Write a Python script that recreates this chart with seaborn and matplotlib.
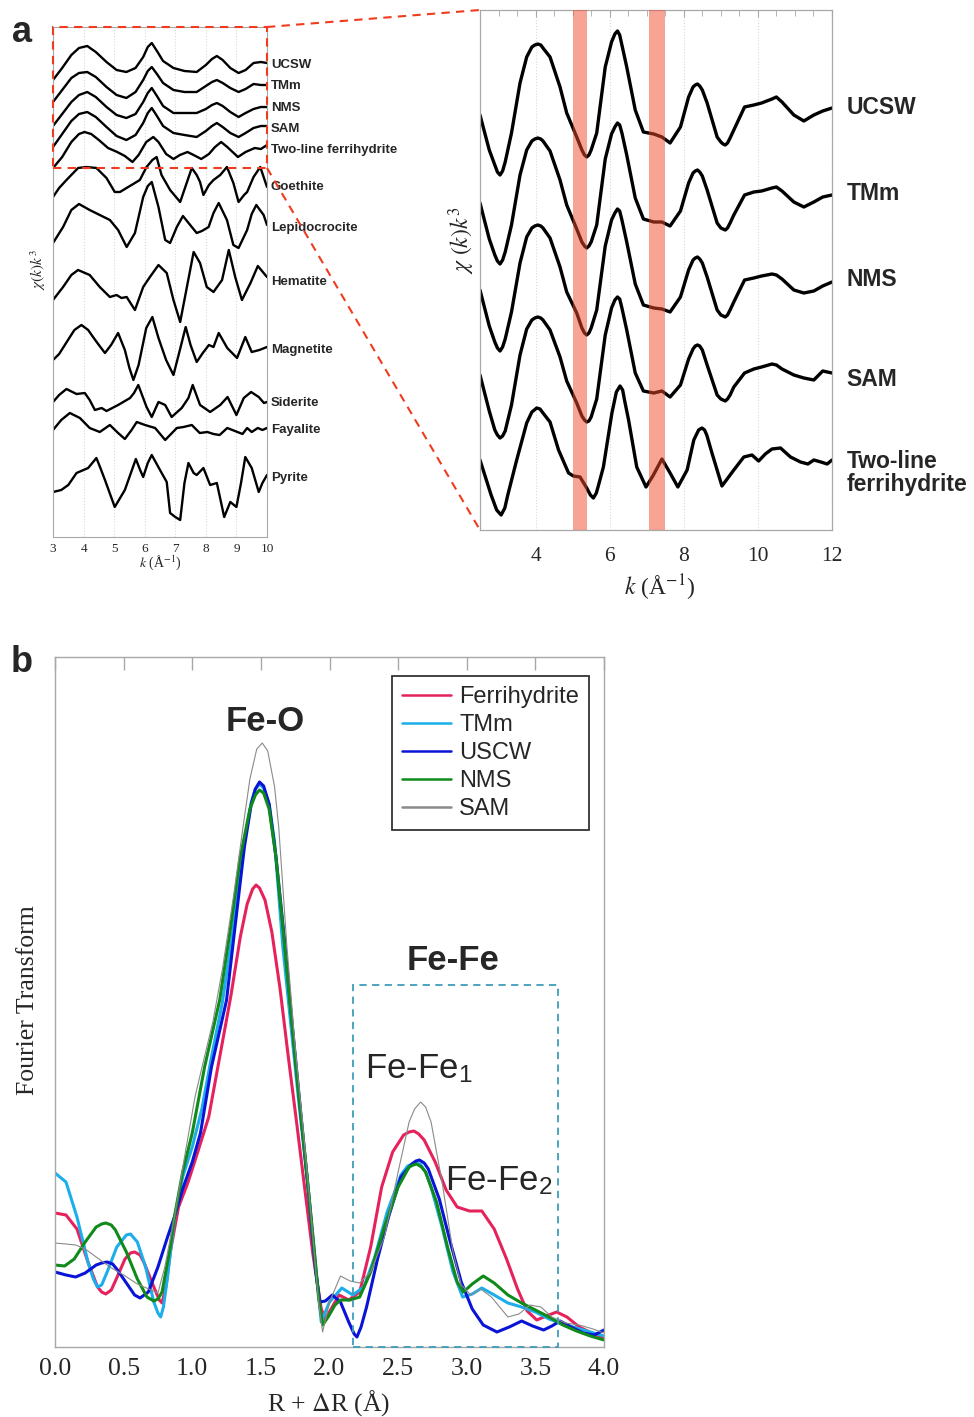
import numpy as np
import matplotlib
matplotlib.use('Agg')
import matplotlib.pyplot as plt
import seaborn as sns
from matplotlib.lines import Line2D
from matplotlib.patches import Rectangle
from matplotlib.ticker import MultipleLocator, FormatStrFormatter

sns.set_style('white')
plt.rcParams['font.family'] = ['Liberation Serif', 'DejaVu Serif']
plt.rcParams['mathtext.fontset'] = 'stix'

# ---------------- panel a, left: EXAFS chi(k)k^3 of samples and references ----------------
k_smp = [3.0, 3.3, 3.6, 3.85, 4.12, 4.4, 4.75, 5.08, 5.4, 5.7, 5.95, 6.1, 6.23, 6.4,
         6.6, 6.94, 7.3, 7.7, 8.0, 8.2, 8.36, 8.55, 8.8, 9.07, 9.3, 9.56, 9.8, 10.0]
ucsw_l = [-15, -3, 10, 17, 19, 13, 3, -5, -7, -3, 8, 18, 22, 14, 4, -3, -6, -7, 0, 6, 9, 5, -3, -8, -5, 2, 3, 2]
tmm_l = [-16, -4, 8, 13, 14, 9, -1, -9, -12, -6, 6, 15, 19, 12, 3, -4, -6, -6, 0, 4, 6, 3, -2, -6, -3, 2, 1, 1]
nms_l = [-18, -6, 6, 13, 16, 11, 1, -7, -10, -6, 6, 15, 20, 12, 2, -5, -5, -5, -1, 3, 5, 2, -4, -9, -5, -1, 1, 1]
sam_l = [-18, -5, 8, 15, 17, 12, 2, -7, -11, -6, 6, 16, 21, 13, 3, -4, -6, -8, -2, 3, 6, 2, -4, -8, -4, 1, 3, 3]

k_fh_l = [3.0, 3.3, 3.6, 3.85, 4.03, 4.25, 4.5, 4.8, 5.1, 5.35, 5.6, 5.8, 6.05, 6.28, 6.45,
          6.7, 6.94, 7.15, 7.4, 7.6, 7.85, 8.1, 8.3, 8.5, 8.7, 9.05, 9.3, 9.6, 9.8, 10.0]
fh_l = [-18, -7, 8, 16, 18, 16, 10, 2, -2, -6, -12, -5, 8, 13, 8, -4, -9, -5, -2, -5, -9, -4, 3, 8, 3, -7, -2, 2, 1, 5]

k_goe = [3.0, 3.2, 3.44, 3.82, 4.09, 4.42, 4.75, 5.02, 5.19, 5.46, 5.84, 6.06, 6.25, 6.39, 6.55, 6.83, 7.16,
         7.35, 7.54, 7.7, 7.81, 7.92, 8.1, 8.25, 8.47, 8.69, 8.9, 9.07, 9.25, 9.35, 9.56, 9.78, 10.0]
goethite = [-10, -1, 7, 19, 20, 19, 9, -5, -5, 0, 7, 20, 27, 30, 12, -3, -15,
            2, 19, 12, 5, -8, 2, 7, 12, 20, 4, -15, -8, -5, 10, 20, 0]

k_lep = [3.0, 3.33, 3.6, 3.85, 4.2, 4.53, 4.86, 5.13, 5.41, 5.68, 5.95, 6.1, 6.23, 6.45, 6.67, 6.83,
         7.05, 7.25, 7.54, 7.7, 7.87, 8.09, 8.25, 8.42, 8.69, 8.9, 9.07, 9.35, 9.5, 9.65, 9.89, 10.0]
lepidocrocite = [-15, 1, 18, 24, 18, 13, 8, -2, -19, -5, 31, 42, 46, 21, -12, -15,
                 1, 12, 1, -5, -3, 1, 15, 25, 8, -17, -20, -2, 14, 23, 13, 3]

k_hem = [3.0, 3.33, 3.6, 3.82, 4.2, 4.53, 4.86, 5.08, 5.24, 5.41, 5.68, 5.95, 6.17, 6.45, 6.72,
         6.94, 7.16, 7.38, 7.6, 7.81, 8.03, 8.25, 8.53, 8.75, 8.96, 9.18, 9.46, 9.7, 10.0]
hematite = [-18, -5, 7, 12, 7, -5, -15, -13, -16, -15, -28, -5, 5, 17, 9,
            -18, -40, -5, 30, 19, -5, -10, 2, 32, 5, -18, -1, 16, 5]

k_mag = [3.0, 3.2, 3.49, 3.7, 3.93, 4.15, 4.31, 4.5, 4.7, 4.9, 5.13, 5.35, 5.5, 5.63, 5.8, 6.05, 6.25,
         6.45, 6.7, 6.94, 7.15, 7.34, 7.5, 7.7, 7.9, 8.1, 8.25, 8.42, 8.7, 9.02, 9.29, 9.5, 9.75, 10.0]
magnetite = [-10, -4, 10, 20, 25, 20, 13, 5, -3, 5, 17, 0, -18, -30, -15, 22, 33,
             12, -10, -25, 0, 23, 5, -12, -3, 5, 3, 17, 2, -8, 13, -2, 0, 3]

k_sid = [3.0, 3.2, 3.44, 3.77, 4.04, 4.2, 4.37, 4.59, 4.75, 5.13, 5.52, 5.65, 5.79, 6.06, 6.23, 6.45,
         6.67, 6.88, 7.21, 7.43, 7.57, 7.81, 8.14, 8.47, 8.71, 9.0, 9.24, 9.48, 9.73, 9.9, 10.0]
siderite = [1, 8, 14, 9, 10, 3, -7, -5, -8, -2, 5, 10, 18, -4, -14, 1,
            -2, -14, -5, 5, 18, -2, -9, -2, 6, -12, 5, 11, 6, 0, 1]

k_fay = [3.0, 3.27, 3.55, 3.88, 4.2, 4.53, 4.86, 5.13, 5.35, 5.57, 5.74, 6.01, 6.34, 6.67, 7.05,
         7.27, 7.54, 7.8, 8.05, 8.25, 8.45, 8.7, 8.95, 9.2, 9.35, 9.5, 9.7, 9.85, 10.0]
fayalite = [0, 10, 17, 12, 2, -2, 5, -3, -9, 0, 8, 5, 2, -10, 2,
            3, 5, -3, -2, -4, -5, 2, -1, -4, 2, -2, 2, 0, 2]

k_pyr = [3.0, 3.27, 3.5, 3.77, 4.15, 4.42, 4.55, 4.7, 5.02, 5.35, 5.71, 5.85, 5.95, 6.1, 6.23, 6.5, 6.72, 6.83,
         7.0, 7.16, 7.3, 7.43, 7.6, 7.7, 7.92, 8.14, 8.36, 8.6, 8.8, 9.0, 9.15, 9.29, 9.5, 9.73, 9.85, 10.0]
pyrite = [-14, -12, -7, 5, 10, 20, 10, -2, -29, -12, 19, 8, 1, 15, 23, 8, -4, -35,
          -39, -42, -5, 15, 5, 3, 10, -7, -5, -39, -24, -29, -5, 21, 10, -14, -5, 3]

left_names = ['UCSW', 'TMm', 'NMS', 'SAM', 'Two-line ferrihydrite', 'Goethite', 'Lepidocrocite',
              'Hematite', 'Magnetite', 'Siderite', 'Fayalite', 'Pyrite']
left_k = [k_smp, k_smp, k_smp, k_smp, k_fh_l, k_goe, k_lep, k_hem, k_mag, k_sid, k_fay, k_pyr]
left_chi = [ucsw_l, tmm_l, nms_l, sam_l, fh_l, goethite, lepidocrocite, hematite, magnetite,
            siderite, fayalite, pyrite]
left_offset = [472, 451, 429, 408, 387, 350, 309, 255, 187, 134, 107, 59]

# ---------------- panel a, right: enlarged sample spectra ----------------
k_r = [2.5, 2.75, 2.9, 2.97, 3.04, 3.11, 3.18, 3.35,
       3.58, 3.76, 3.9, 3.98, 4.06, 4.14, 4.2, 4.39,
       4.66, 4.84, 5.11, 5.25, 5.32, 5.38, 5.44, 5.5,
       5.65, 5.88, 6.05, 6.14, 6.21, 6.27, 6.33, 6.46,
       6.69, 6.91, 7.19, 7.41, 7.63, 7.91, 8.13, 8.25,
       8.31, 8.37, 8.43, 8.5, 8.63, 8.9, 9.0, 9.06,
       9.12, 9.18, 9.25, 9.35, 9.64, 9.89, 10.1, 10.38,
       10.5, 10.65, 10.97, 11.24, 11.51, 11.75, 12.0]
ucsw_r = [-7, -42, -57, -64, -67, -63, -54, -25,
          25, 51, 61, 63, 64, 63, 60, 51,
          21, -5, -29, -42, -47, -49, -47, -42,
          -25, 41, 66, 74, 77, 73, 63, 41,
          -2, -24, -26, -29, -35, -19, 11, 21,
          23, 24, 22, 18, 5, -29, -34, -36,
          -37, -35, -30, -22, 1, 3, 5, 9,
          11, 6, -7, -13, -7, -3, 0]
tmm_r = [-8, -44, -60, -66, -69, -65, -57, -30,
         20, 45, 54, 56, 57, 56, 54, 44,
         15, -10, -34, -47, -51, -53, -51, -47,
         -30, 36, 61, 68, 72, 70, 62, 40,
         -3, -24, -27, -27, -31, -16, 12, 22,
         24, 25, 23, 19, 5, -28, -33, -34,
         -35, -33, -28, -20, 0, 3, 4, 7,
         8, 4, -7, -12, -7, -2, 0]
nms_r = [-8, -44, -60, -66, -69, -65, -57, -30,
         19, 45, 54, 56, 57, 56, 54, 44,
         15, -10, -31, -46, -51, -53, -51, -46,
         -28, 36, 62, 69, 73, 71, 62, 40,
         -2, -23, -26, -27, -30, -15, 12, 22,
         24, 25, 23, 19, 5, -28, -33, -34,
         -35, -33, -28, -20, 2, 4, 6, 8,
         7, 3, -8, -11, -9, -4, 0]
sam_r = [-2, -38, -57, -62, -65, -63, -58, -32,
         18, 44, 53, 55, 56, 55, 53, 43,
         16, -8, -30, -43, -47, -49, -48, -44,
         -26, 38, 65, 73, 76, 74, 65, 43,
         0, -18, -20, -18, -24, -12, 14, 24,
         27, 28, 27, 23, 8, -22, -26, -27,
         -28, -26, -22, -14, 0, 4, 6, 9,
         8, 4, -2, -5, -7, 2, 0]
k_r_fh = [2.5, 2.8, 2.95, 3.07, 3.17, 3.25, 3.49, 3.76, 3.9, 4.03, 4.12, 4.2, 4.39, 4.62, 4.89,
          5.02, 5.2, 5.38, 5.48, 5.56, 5.64, 5.7, 5.83, 6.06, 6.18, 6.28, 6.35, 6.4, 6.51, 6.73,
          6.98, 7.18, 7.41, 7.63, 7.84, 8.09, 8.27, 8.4, 8.49, 8.56, 8.62, 8.76, 9.03, 9.35, 9.62,
          9.84, 10.02, 10.2, 10.38, 10.61, 10.88, 11.15, 11.35, 11.51, 11.7, 11.87, 12.0]
fh_r = [0, -35, -50, -55, -48, -35, 0, 37, 48, 52, 51, 47, 38, 10, -13,
        -16, -17, -28, -35, -38, -33, -25, -7, 47, 68, 74, 70, 60, 40, -7,
        -27, -15, 1, -13, -27, -10, 20, 30, 32, 30, 25, 7, -26, -10, 3,
        5, -1, 6, 11, 12, 3, -2, -4, 0, -2, -4, 0]

right_names = ['UCSW', 'TMm', 'NMS', 'SAM', 'Two-line\nferrihydrite']
right_k = [k_r, k_r, k_r, k_r, k_r_fh]
right_chi = [ucsw_r, tmm_r, nms_r, sam_r, fh_r]
right_offset = [422, 335, 248, 157, 70]
right_label_y = [422, 337, 250, 150, 57]
bands = [(5.0, 5.4), (7.05, 7.5)]

# ---------------- panel b: Fourier transforms ----------------
r_fh = [0, 0.08, 0.16, 0.24, 0.31, 0.34, 0.37, 0.41, 0.44, 0.51, 0.55, 0.58, 0.62, 0.65, 0.72,
        0.76, 0.78, 0.81, 0.84, 0.9, 0.97, 1.04, 1.12, 1.2, 1.28, 1.35, 1.4, 1.44, 1.465, 1.49,
        1.53, 1.58, 1.64, 1.7, 1.76, 1.82, 1.88, 1.94, 1.97, 2.02, 2.07, 2.14, 2.22, 2.3, 2.38,
        2.46, 2.54, 2.58, 2.615, 2.65, 2.69, 2.77, 2.85, 2.93, 3.02, 3.11, 3.2, 3.29, 3.37, 3.44,
        3.51, 3.58, 3.655, 3.73, 3.82, 3.91, 4.0]
ft_fh = [134, 132, 118, 85, 60, 55, 53, 57, 66, 88, 94, 95, 92, 84, 60,
         47, 44, 62, 95, 140, 165, 195, 230, 290, 350, 410, 443, 458, 462, 459,
         447, 415, 358, 290, 225, 158, 92, 38, 28, 40, 52, 47, 55, 100, 160,
         195, 212, 215, 216, 213, 207, 185, 157, 140, 136, 136, 118, 88, 58, 36,
         27, 31, 35, 30, 20, 14, 9]

r_tm = [0, 0.08, 0.16, 0.24, 0.28, 0.31, 0.34, 0.38, 0.45, 0.52, 0.55, 0.6, 0.66, 0.72, 0.75,
        0.77, 0.79, 0.82, 0.87, 0.93, 1.0, 1.07, 1.14, 1.22, 1.3, 1.38, 1.43, 1.46, 1.49, 1.52,
        1.56, 1.6, 1.66, 1.72, 1.78, 1.84, 1.9, 1.94, 2.0, 2.09, 2.17, 2.25, 2.33, 2.42, 2.52,
        2.57, 2.62, 2.66, 2.7, 2.74, 2.82, 2.9, 2.97, 3.04, 3.11, 3.2, 3.3, 3.4, 3.5, 3.6,
        3.7, 3.8, 3.9, 4.0]
ft_tm = [174, 165, 130, 85, 68, 60, 62, 75, 100, 112, 113, 105, 80, 45, 34,
         30, 40, 70, 128, 170, 200, 238, 290, 345, 420, 505, 545, 558, 563, 559,
         543, 505, 400, 320, 240, 165, 80, 25, 45, 59, 52, 60, 90, 135, 172,
         181, 184, 183, 175, 160, 120, 75, 50, 53, 59, 52, 44, 40, 35, 28,
         23, 19, 15, 11]

r_us = [0, 0.08, 0.15, 0.22, 0.3, 0.34, 0.38, 0.42, 0.45, 0.52, 0.58, 0.62, 0.68, 0.75, 0.82,
        0.87, 0.93, 1.0, 1.06, 1.14, 1.25, 1.32, 1.38, 1.43, 1.46, 1.49, 1.52, 1.56, 1.61, 1.67,
        1.73, 1.79, 1.85, 1.9, 1.93, 1.97, 2.02, 2.08, 2.14, 2.18, 2.2, 2.23, 2.27, 2.35, 2.43,
        2.52, 2.6, 2.63, 2.655, 2.69, 2.72, 2.8, 2.88, 2.96, 3.04, 3.12, 3.22, 3.31, 3.4, 3.48,
        3.56, 3.62, 3.68, 3.76, 3.85, 3.93, 4.0]
ft_us = [75, 72, 70, 74, 82, 84, 85, 83, 78, 64, 52, 49, 55, 80, 110,
         130, 158, 185, 214, 280, 347, 430, 500, 543, 558, 565, 561, 543, 490, 410,
         320, 235, 150, 75, 45, 46, 52, 45, 25, 13, 10, 20, 40, 88, 130,
         170, 183, 186, 187, 184, 178, 148, 105, 65, 38, 22, 15, 20, 26, 21,
         17, 21, 26, 20, 14, 12, 17]

r_nm = [0, 0.07, 0.14, 0.22, 0.3, 0.34, 0.37, 0.41, 0.44, 0.52, 0.6, 0.67, 0.72, 0.75, 0.78,
        0.84, 0.87, 0.93, 1.0, 1.09, 1.2, 1.28, 1.35, 1.42, 1.46, 1.49, 1.52, 1.56, 1.61, 1.66,
        1.71, 1.77, 1.83, 1.88, 1.92, 1.95, 1.99, 2.04, 2.08, 2.15, 2.22, 2.3, 2.4, 2.5, 2.58,
        2.61, 2.635, 2.67, 2.7, 2.78, 2.86, 2.93, 2.975, 3.04, 3.12, 3.2, 3.3, 3.4, 3.5, 3.6,
        3.7, 3.8, 3.9, 4.0]
ft_nm = [82, 81, 88, 105, 120, 123, 124, 122, 117, 95, 68, 50, 46, 48, 55,
         100, 130, 175, 214, 280, 347, 420, 490, 538, 552, 557, 554, 538, 490, 420,
         347, 260, 180, 110, 50, 22, 30, 42, 47, 47, 50, 75, 120, 160, 180,
         182, 183, 180, 175, 145, 100, 65, 55, 63, 71, 64, 52, 44, 37, 30,
         22, 16, 11, 7]

r_sa = [0, 0.08, 0.15, 0.22, 0.3, 0.4, 0.5, 0.6, 0.7, 0.75, 0.8, 0.87, 0.95, 1.02, 1.08,
        1.15, 1.22, 1.3, 1.37, 1.42, 1.47, 1.51, 1.55, 1.6, 1.63, 1.69, 1.75, 1.81, 1.87, 1.92,
        1.95, 2.0, 2.08, 2.15, 2.22, 2.3, 2.4, 2.5, 2.58, 2.62, 2.664, 2.7, 2.74, 2.82, 2.9,
        2.96, 3.03, 3.1, 3.18, 3.3, 3.38, 3.46, 3.54, 3.62, 3.72, 3.82, 3.92, 4.0]
ft_sa = [104, 103, 102, 98, 90, 80, 72, 63, 57, 54, 80, 130, 195, 250, 285,
         325, 378, 450, 520, 568, 598, 604, 596, 560, 520, 400, 300, 215, 125, 45,
         15, 45, 71, 66, 64, 75, 110, 175, 225, 238, 245, 240, 225, 165, 95,
         62, 52, 58, 50, 30, 33, 42, 40, 30, 24, 22, 18, 14]

ft_names = ['Ferrihydrite', 'TMm', 'USCW', 'NMS', 'SAM']
ft_r = [r_fh, r_tm, r_us, r_nm, r_sa]
ft_vals = [ft_fh, ft_tm, ft_us, ft_nm, ft_sa]
ft_colors = ['#E5225C', '#1CAEEB', '#0A14D6', '#108A1A', '#8A8A8A']
ft_widths = [2.2, 2.2, 2.2, 2.2, 0.8]

# ---------------- figure ----------------
W, H = 974, 1417
fig = plt.figure(figsize=(W / 100, H / 100), dpi=100)


def box(x0, y0, x1, y1):
    return [x0 / W, 1 - y1 / H, (x1 - x0) / W, (y1 - y0) / H]


sans = 'Liberation Sans'
red = '#F03C1E'
spine_col = '#A8A8A8'

ax1 = fig.add_axes(box(53, 27, 267, 537))
ax2 = fig.add_axes(box(480, 10, 832, 530))
ax3 = fig.add_axes(box(55, 657, 604, 1347))

# left panel
for name, k, chi, off in zip(left_names, left_k, left_chi, left_offset):
    sns.lineplot(x=k, y=np.array(chi) + off, ax=ax1, color='black', linewidth=1.7)
    ax1.text(10.13, off, name, fontsize=9.5, fontweight='bold', family=sans,
             ha='left', va='center', clip_on=False)
ax1.set_xlim(3, 10)
ax1.set_ylim(0, 510)
ax1.set_yticks([])
ax1.xaxis.set_major_locator(MultipleLocator(1))
ax1.xaxis.set_minor_locator(MultipleLocator(0.2))
ax1.tick_params(axis='x', which='major', direction='in', length=4, labelsize=9.5, pad=4, color=spine_col)
ax1.tick_params(axis='x', which='minor', direction='in', length=2, color=spine_col)
ax1.grid(axis='x', which='major', ls=':', color='#D8D8D8', lw=0.8)
ax1.set_xlabel('')
ax1.set_ylabel('')
for s in ax1.spines.values():
    s.set_color(spine_col)
    s.set_linewidth(0.8)
fig.text(160 / W, 1 - 563 / H, r'$k$ (Å$^{-1}$)', fontsize=10, ha='center', va='center')
fig.text(38 / W, 1 - 270 / H, r'$\chi(k)k^3$', fontsize=11, rotation=90, ha='center', va='center')

# zoom box on left panel and guide lines
ax1.add_patch(Rectangle((3, 537 - 168), 7, 168 - 27, fill=False, ec=red, lw=1.5, ls=(0, (4, 3)),
                        clip_on=False, zorder=5))
fig.add_artist(Line2D([267 / W, 480 / W], [1 - 27 / H, 1 - 10 / H], color=red, lw=1.5, ls=(0, (4, 3))))
fig.add_artist(Line2D([267 / W, 480 / W], [1 - 168 / H, 1 - 530 / H], color=red, lw=1.5, ls=(0, (4, 3))))

# right panel
for name, k, chi, off, ly in zip(right_names, right_k, right_chi, right_offset, right_label_y):
    sns.lineplot(x=k, y=np.array(chi) + off, ax=ax2, color='black', linewidth=2.4)
    ax2.text(12.39, ly, name, fontsize=16.5, fontweight='bold', family=sans,
             ha='left', va='center', clip_on=False, linespacing=1.05)
for b0, b1 in bands:
    ax2.axvspan(b0, b1, color='#F14B2D', alpha=0.5, lw=0, zorder=3)
ax2.set_xlim(2.5, 12)
ax2.set_ylim(0, 520)
ax2.set_yticks([])
ax2.xaxis.set_major_locator(MultipleLocator(2))
ax2.xaxis.set_minor_locator(MultipleLocator(0.5))
ax2.tick_params(axis='x', which='both', direction='in', top=True, color=spine_col)
ax2.tick_params(axis='x', which='major', length=5, labelsize=15.5, pad=12)
ax2.tick_params(axis='x', which='minor', length=4)
ax2.grid(axis='x', which='major', ls=':', color='#D8D8D8', lw=0.8)
ax2.set_xlabel('')
ax2.set_ylabel('')
for s in ax2.spines.values():
    s.set_color(spine_col)
    s.set_linewidth(0.9)
fig.text(660 / W, 1 - 588 / H, r'$k$ (Å$^{-1}$)', fontsize=17, ha='center', va='center')
fig.text(462 / W, 1 - 240 / H, r'$\chi\ (k)k^3$', fontsize=17, rotation=90, ha='center', va='center')

# panel b
for name, r, v, c, lw in zip(ft_names, ft_r, ft_vals, ft_colors, ft_widths):
    sns.lineplot(x=r, y=v, ax=ax3, color=c, linewidth=lw, label=name)
ax3.set_xlim(0, 4)
ax3.set_ylim(0, 690)
ax3.set_yticks([])
ax3.xaxis.set_major_locator(MultipleLocator(0.5))
ax3.xaxis.set_major_formatter(FormatStrFormatter('%.1f'))
ax3.tick_params(axis='x', direction='in', top=True, length=9, width=1, color=spine_col,
                labelsize=18.5, pad=8)
ax3.set_xlabel('')
ax3.set_ylabel('')
for s in ax3.spines.values():
    s.set_color(spine_col)
    s.set_linewidth(1.0)
ax3.add_patch(Rectangle((2.17, 0), 3.665 - 2.17, 362, fill=False, ec='#3E9DB8', lw=1.3,
                        ls=(0, (4, 3)), clip_on=False, zorder=4))
ax3.text(1.53, 616, 'Fe-O', fontsize=25, fontweight='bold', family=sans, ha='center', va='baseline')
ax3.text(2.90, 377, 'Fe-Fe', fontsize=25, fontweight='bold', family=sans, ha='center', va='baseline')
ax3.text(2.26, 269, r'Fe-Fe$_\mathregular{1}$', fontsize=25, family=sans, ha='left', va='baseline')
ax3.text(2.84, 157, r'Fe-Fe$_\mathregular{2}$', fontsize=25, family=sans, ha='left', va='baseline')
leg = ax3.legend(loc='upper left', bbox_to_anchor=(0.614, 0.972), borderaxespad=0, frameon=True,
                 fancybox=False, prop={'family': sans, 'size': 17}, handlelength=2.1,
                 handletextpad=0.35, labelspacing=0.26, borderpad=0.4)
leg.get_frame().set_edgecolor('black')
leg.get_frame().set_linewidth(1.3)
for ln in leg.get_lines():
    ln.set_linewidth(1.8)
fig.text(329 / W, 1 - 1403 / H, r'R + $\it{\Delta}$R (Å)', fontsize=18.5, ha='center', va='center')
fig.text(28 / W, 1 - 1000 / H, 'Fourier Transform', fontsize=18.5, rotation=90, ha='center', va='center')

# panel letters
fig.text(22 / W, 1 - 33 / H, 'a', fontsize=26, fontweight='bold', family=sans, ha='center', va='center')
fig.text(22 / W, 1 - 662 / H, 'b', fontsize=26, fontweight='bold', family=sans, ha='center', va='center')

fig.savefig('out.png', dpi=100)
